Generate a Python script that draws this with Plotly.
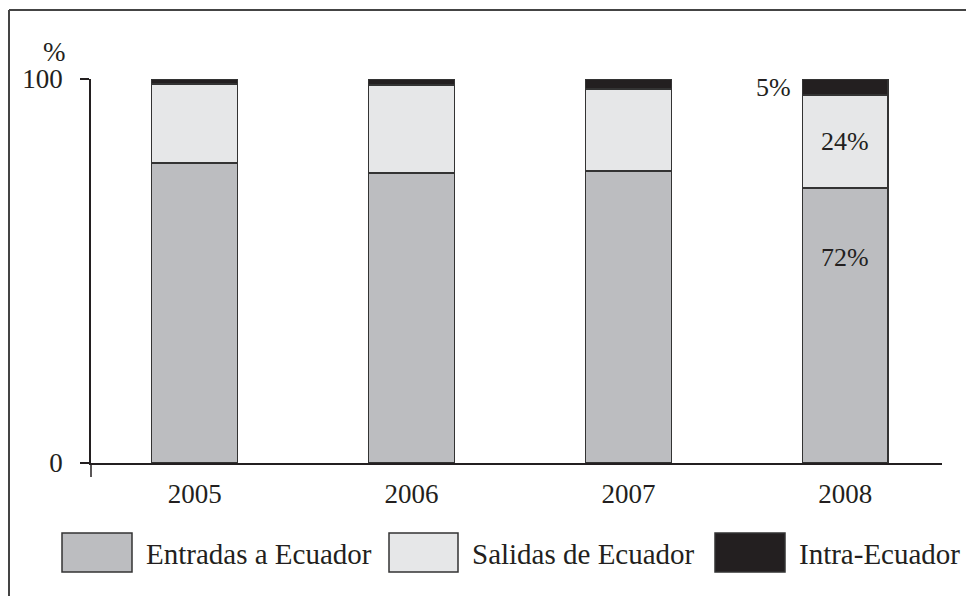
import plotly.graph_objects as go

years = ["2005", "2006", "2007", "2008"]
entradas = [78.1, 75.5, 76.0, 71.6]
salidas = [20.6, 22.9, 21.4, 24.2]
intra = [1.3, 1.6, 2.6, 4.2]
series_names = ["Entradas a Ecuador", "Salidas de Ecuador", "Intra-Ecuador"]
series_colors = ["#bcbdc0", "#e6e7e8", "#231f20"]
label_2008 = ["72%", "24%", "5%"]

FONT = "Liberation Serif"
TXT = "#231f20"
OFF = 8  # page body margin
W, H = 974 - OFF, 596 - OFF
# plot area in reference pixel coordinates
PL, PR, PT, PB = 91, 942, 79, 463
ML, MR, MT, MB = PL - OFF, W - (PR - OFF), PT - OFF, H - (PB - OFF)
pw = PR - PL
ph = PB - PT


def px_x(p):
    return (p - PL) / pw


def px_y(p):
    return (PB - p) / ph


fig = go.Figure()
for name, vals, col in zip(series_names, [entradas, salidas, intra], series_colors):
    fig.add_trace(go.Bar(
        x=years, y=vals, name=name, width=0.396,
        marker=dict(color=col, line=dict(color="#333333", width=1.5)),
        showlegend=False,
    ))

i8 = years.index("2008")
fig.add_annotation(x=i8, y=entradas[i8] - 18, text=label_2008[0], showarrow=False,
                   font=dict(family=FONT, size=26, color=TXT))
fig.add_annotation(x=i8, y=entradas[i8] + salidas[i8] / 2, text=label_2008[1], showarrow=False,
                   font=dict(family=FONT, size=26, color=TXT))
fig.add_annotation(x=i8, y=entradas[i8] + salidas[i8] + intra[i8] / 2, text=label_2008[2],
                   showarrow=False, xanchor="right", xshift=-52,
                   font=dict(family=FONT, size=26, color=TXT))

# y-axis unit label
fig.add_annotation(xref="paper", yref="paper", x=px_x(54), y=px_y(52),
                   xanchor="center", yanchor="middle",
                   text="%", showarrow=False, font=dict(family=FONT, size=27, color=TXT))

shapes = []
# y-axis extension below zero
shapes.append(dict(type="line", xref="paper", yref="paper", x0=0, x1=0,
                   y0=px_y(463), y1=px_y(477), line=dict(color=TXT, width=1.5)))
# frame lines (top and left)
shapes.append(dict(type="line", xref="paper", yref="paper", x0=px_x(9), x1=px_x(980),
                   y0=px_y(10), y1=px_y(10), line=dict(color="#444444", width=2)))
shapes.append(dict(type="line", xref="paper", yref="paper", x0=px_x(9), x1=px_x(9),
                   y0=px_y(10), y1=px_y(600), line=dict(color="#444444", width=2)))

# manual legend
legend_boxes = [(62, 132), (389, 458), (715, 785)]
for (x0, x1), name, col in zip(legend_boxes, series_names, series_colors):
    shapes.append(dict(type="rect", xref="paper", yref="paper",
                       x0=px_x(x0), x1=px_x(x1), y0=px_y(572), y1=px_y(533),
                       fillcolor=col, line=dict(color="#333333", width=1.5)))
    fig.add_annotation(xref="paper", yref="paper", x=px_x(x1 + 12), y=px_y(554),
                       xanchor="left", yanchor="middle", text=name, showarrow=False,
                       font=dict(family=FONT, size=29, color=TXT))

fig.update_layout(
    width=W, height=H,
    margin=dict(l=ML, r=MR, t=MT, b=MB),
    barmode="stack",
    plot_bgcolor="white", paper_bgcolor="white",
    shapes=shapes,
    font=dict(family=FONT, color=TXT),
    xaxis=dict(type="category", range=[-0.478, 3.446], showline=True, linecolor=TXT,
               linewidth=1.5, ticks="", showgrid=False, zeroline=False, ticklabelstandoff=6,
               tickfont=dict(family=FONT, size=27, color=TXT)),
    yaxis=dict(range=[0, 100], tickvals=[0, 100], ticktext=["0", "100"], showline=True,
               linecolor=TXT, linewidth=1.5, ticks="outside", ticklen=9, tickwidth=1.5,
               tickcolor=TXT, showgrid=False, zeroline=False, ticklabelstandoff=12,
               tickfont=dict(family=FONT, size=27, color=TXT)),
)

fig.write_html("out.html")
